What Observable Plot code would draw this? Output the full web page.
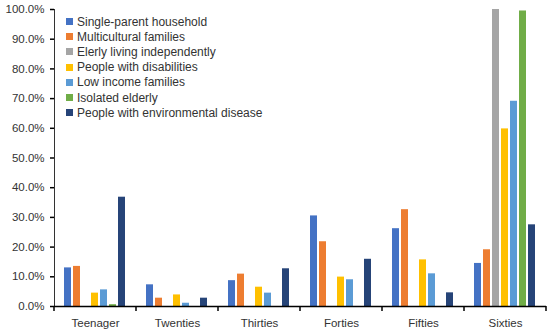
<!DOCTYPE html>
<html>
<head>
<meta charset="utf-8">
<script src="https://cdn.jsdelivr.net/npm/d3@7"></script>
<script src="https://cdn.jsdelivr.net/npm/@observablehq/plot@0.6"></script>
<style>
  body { margin: 0; background: #fff; font-family: "Liberation Sans", Arial, sans-serif; }
  #wrap { position: relative; width: 550px; height: 331px; }
  #legend { position: absolute; left: 66px; top: 14px; font-size: 12px; color: #333; }
  #legend .row { display: flex; align-items: center; height: 15.2px; white-space: nowrap; }
  #legend .sw { width: 7px; height: 7px; margin-right: 4px; }
</style>
</head>
<body>
<div id="wrap"><div id="legend"></div></div>
<script>
const categories = ["Teenager", "Twenties", "Thirties", "Forties", "Fifties", "Sixties"];
const seriesNames = [
  "Single-parent household",
  "Multicultural families",
  "Elerly living independently",
  "People with disabilities",
  "Low income families",
  "Isolated elderly",
  "People with environmental disease"
];
const seriesColors = ["#4472C4", "#ED7D31", "#A5A5A5", "#FFC000", "#5B9BD5", "#70AD47", "#264478"];

const singleParent   = [0.130, 0.073, 0.087, 0.305, 0.262, 0.145];
const multicultural  = [0.135, 0.028, 0.109, 0.218, 0.326, 0.191];
const elderlyAlone   = [0.000, 0.000, 0.000, 0.000, 0.000, 1.000];
const disabilities   = [0.045, 0.039, 0.065, 0.099, 0.157, 0.598];
const lowIncome      = [0.056, 0.011, 0.045, 0.090, 0.110, 0.691];
const isolatedElderly= [0.006, 0.000, 0.000, 0.000, 0.000, 0.995];
const environmental  = [0.368, 0.028, 0.127, 0.159, 0.046, 0.275];

const yTicks = [0, 0.1, 0.2, 0.3, 0.4, 0.5, 0.6, 0.7, 0.8, 0.9, 1.0];

const seriesValues = [singleParent, multicultural, elderlyAlone, disabilities, lowIncome, isolatedElderly, environmental];
const data = [];
categories.forEach((c, i) => {
  seriesNames.forEach((s, j) => data.push({age: c, series: s, value: seriesValues[j][i]}));
});

const plot = Plot.plot({
  width: 550,
  height: 331,
  marginLeft: 52,
  marginRight: 3,
  marginTop: 9,
  marginBottom: 25,
  style: {fontFamily: "Liberation Sans, Arial, sans-serif", fontSize: "11.5px", color: "#333", background: "transparent"},
  fx: {domain: categories, padding: 0, label: null, tickSize: 0, tickPadding: 12},
  x: {domain: seriesNames, paddingInner: 0.21, paddingOuter: 0.95, axis: null},
  y: {domain: [0, 1], ticks: yTicks, tickFormat: d3.format(".1%"), tickSize: 4, tickPadding: 6, label: null, line: true},
  color: {domain: seriesNames, range: seriesColors},
  marks: [
    Plot.barY(data, {fx: "age", x: "series", y: "value", fill: "series"}),
    Plot.ruleY([0], {stroke: "#000", strokeWidth: 1.5})
  ]
});

// category boundary ticks on the x axis, placed with Plot's own fx and y scales
const fx = plot.scale("fx");
const ys = plot.scale("y");
const y0 = ys.apply(0);
const edges = categories.map(c => fx.apply(c)).concat([fx.apply(categories[categories.length - 1]) + fx.bandwidth]);
d3.select(plot).append("g")
  .selectAll("line").data(edges).join("line")
  .attr("x1", d => d).attr("x2", d => d)
  .attr("y1", y0).attr("y2", y0 + 5)
  .attr("stroke", "#000").attr("stroke-width", 1.5);
d3.select(plot).selectAll("[aria-label='y-axis tick'] path, [aria-label='y-axis line'] line, [aria-label='y-axis line'] path").attr("stroke", "#000").attr("stroke-width", 1.5);

document.getElementById("wrap").prepend(plot);

const legend = d3.select("#legend");
seriesNames.forEach((s, i) => {
  const row = legend.append("div").attr("class", "row");
  row.append("div").attr("class", "sw").style("background", seriesColors[i]);
  row.append("span").text(s);
});
</script>
</body>
</html>
